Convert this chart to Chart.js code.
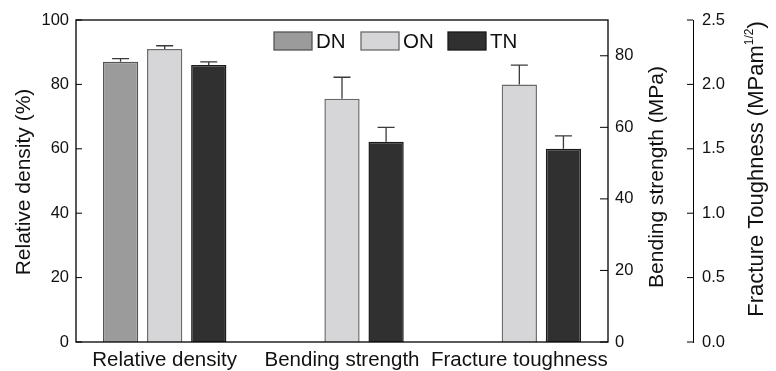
<!DOCTYPE html>
<html>
<head>
<meta charset="utf-8">
<script src="https://cdn.jsdelivr.net/npm/chart.js@4.4.1/dist/chart.umd.min.js"></script>
<style>
  body { margin: 0; background: #fff; }
  #chart { display: block; }
</style>
</head>
<body>
<canvas id="chart" width="776" height="371"></canvas>
<script>
const categories = ['Relative density', 'Bending strength', 'Fracture toughness'];
const seriesNames = ['DN', 'ON', 'TN'];

// one value per category, each category read on its own axis
const dnValues = [87, null, null];
const dnErrors = [1, null, null];
const onValues = [91, 68, 2.0];
const onErrors = [1, 6, 0.15];
const tnValues = [86, 56, 1.5];
const tnErrors = [1, 4, 0.1];

const densityTicks = [0, 20, 40, 60, 80, 100];
const bendingTicks = [0, 20, 40, 60, 80];
const bendingMax = 90;
const toughnessTicks = [0, 0.5, 1.0, 1.5, 2.0, 2.5];

const fillColors = ['#9b9b9c', '#d6d6d8', '#303030'];
const edgeColors = ['#555', '#6a6a6a', '#1a1a1a'];
const axisIds = ['y', 'y1', 'y2'];
const fontFamily = "'Liberation Sans', Arial, Helvetica, sans-serif";
const ink = '#111';

const seriesValues = [dnValues, onValues, tnValues];
const seriesErrors = [dnErrors, onErrors, tnErrors];

const datasets = [];
seriesNames.forEach((name, s) => {
  categories.forEach((cat, i) => {
    if (seriesValues[s][i] == null) return;
    datasets.push({
      label: name,
      stack: name,
      yAxisID: axisIds[i],
      data: categories.map((_, j) => j === i ? seriesValues[s][i] : null),
      errors: categories.map((_, j) => j === i ? seriesErrors[s][i] : null),
      backgroundColor: fillColors[s],
      borderColor: edgeColors[s],
      borderWidth: 1.5,
      borderSkipped: 'bottom',
      barPercentage: 0.8,
      categoryPercentage: 0.746
    });
  });
});

function drawRotated(ctx, x, y, parts) {
  ctx.save();
  ctx.translate(x, y);
  ctx.rotate(-Math.PI / 2);
  ctx.textBaseline = 'alphabetic';
  ctx.textAlign = 'left';
  let total = 0;
  parts.forEach(p => { ctx.font = `${p.size}px ${fontFamily}`; total += ctx.measureText(p.text).width; });
  let cx = -total / 2;
  parts.forEach(p => {
    ctx.font = `${p.size}px ${fontFamily}`;
    ctx.fillText(p.text, cx, p.rise || 0);
    cx += ctx.measureText(p.text).width;
  });
  ctx.restore();
}

const decorations = {
  id: 'decorations',
  afterDatasetsDraw(chart) {
    const ctx = chart.ctx;
    ctx.save();
    ctx.strokeStyle = '#3a3a3a';
    ctx.lineWidth = 1.3;
    chart.data.datasets.forEach((ds, di) => {
      const meta = chart.getDatasetMeta(di);
      const scale = chart.scales[ds.yAxisID];
      meta.data.forEach((bar, i) => {
        const v = ds.data[i], e = ds.errors[i];
        if (v == null || e == null) return;
        const top = scale.getPixelForValue(v + e);
        ctx.beginPath();
        ctx.moveTo(bar.x, bar.y);
        ctx.lineTo(bar.x, top);
        ctx.moveTo(bar.x - 8.5, top);
        ctx.lineTo(bar.x + 8.5, top);
        ctx.stroke();
      });
    });
    ctx.restore();
  },
  afterDraw(chart) {
    const ctx = chart.ctx;
    const area = chart.chartArea;
    const {y, y1, y2} = chart.scales;
    ctx.save();

    // plot frame
    ctx.strokeStyle = '#000';
    ctx.lineWidth = 1.3;
    ctx.strokeRect(area.left, area.top, area.right - area.left, area.bottom - area.top);

    // inward ticks
    ctx.lineWidth = 1;
    ctx.beginPath();
    y.ticks.forEach((t, i) => {
      const p = y.getPixelForTick(i);
      ctx.moveTo(area.left, p); ctx.lineTo(area.left + 6, p);
    });
    y1.ticks.forEach((t, i) => {
      const p = y1.getPixelForTick(i);
      ctx.moveTo(area.right - 8, p); ctx.lineTo(area.right, p);
    });
    y2.ticks.forEach((t, i) => {
      const p = y2.getPixelForTick(i);
      ctx.moveTo(y2.left - 6, p); ctx.lineTo(y2.left, p);
    });
    ctx.stroke();

    // axis titles
    ctx.fillStyle = ink;
    const mid = (area.top + area.bottom) / 2;
    drawRotated(ctx, y.left + 30, mid + 1, [{text: 'Relative density (%)', size: 21}]);
    drawRotated(ctx, y1.left + 55, mid - 4, [{text: 'Bending strength (MPa)', size: 21}]);
    drawRotated(ctx, y2.left + 70, mid - 12, [
      {text: 'Fracture Toughness (MPam', size: 22},
      {text: '1/2', size: 12, rise: -10},
      {text: ')', size: 22}
    ]);

    // legend inside the plot
    const lx = area.left + 198, ly = area.top + 12;
    ctx.font = `20.5px ${fontFamily}`;
    ctx.textBaseline = 'middle';
    ctx.textAlign = 'left';
    seriesNames.forEach((name, s) => {
      const x = lx + s * 87;
      ctx.fillStyle = fillColors[s];
      ctx.fillRect(x, ly, 38, 18);
      ctx.strokeStyle = edgeColors[s];
      ctx.lineWidth = 1.3;
      ctx.strokeRect(x, ly, 38, 18);
      ctx.fillStyle = ink;
      ctx.fillText(name, x + 42, ly + 10);
    });
    ctx.restore();
  }
};

const tickFont = { family: fontFamily, size: 16.5 };

new Chart(document.getElementById('chart'), {
  type: 'bar',
  data: { labels: categories, datasets },
  plugins: [decorations],
  options: {
    responsive: false,
    animation: false,
    layout: { padding: { top: 20, left: 0, right: 0, bottom: 0 } },
    plugins: { legend: { display: false }, tooltip: { enabled: false } },
    scales: {
      x: {
        grid: { display: false, drawTicks: false },
        border: { display: false },
        ticks: { font: { family: fontFamily, size: 20.5 }, color: ink, padding: 6, maxRotation: 0, autoSkip: false },
        afterFit: s => { s.height = 29; }
      },
      y: {
        position: 'left',
        stacked: false,
        min: 0, max: 100,
        grid: { display: false, drawTicks: false },
        border: { display: false },
        ticks: { font: tickFont, color: ink, padding: 7 },
        afterBuildTicks: s => { s.ticks = densityTicks.map(value => ({ value })); },
        afterFit: s => { s.width = 76; }
      },
      y1: {
        position: 'right',
        stacked: false,
        min: 0, max: bendingMax,
        grid: { display: false, drawTicks: false },
        border: { display: false },
        ticks: { font: tickFont, color: ink, padding: 7 },
        afterBuildTicks: s => { s.ticks = bendingTicks.map(value => ({ value })); },
        afterFit: s => { s.width = 85; }
      },
      y2: {
        position: 'right',
        stacked: false,
        min: 0, max: 2.5,
        grid: { display: false, drawTicks: false },
        border: { display: true, color: '#000', width: 1 },
        ticks: { font: tickFont, color: ink, padding: 9, callback: v => Number(v).toFixed(1) },
        afterBuildTicks: s => { s.ticks = toughnessTicks.map(value => ({ value })); },
        afterFit: s => { s.width = 83; }
      }
    }
  }
});
</script>
</body>
</html>
